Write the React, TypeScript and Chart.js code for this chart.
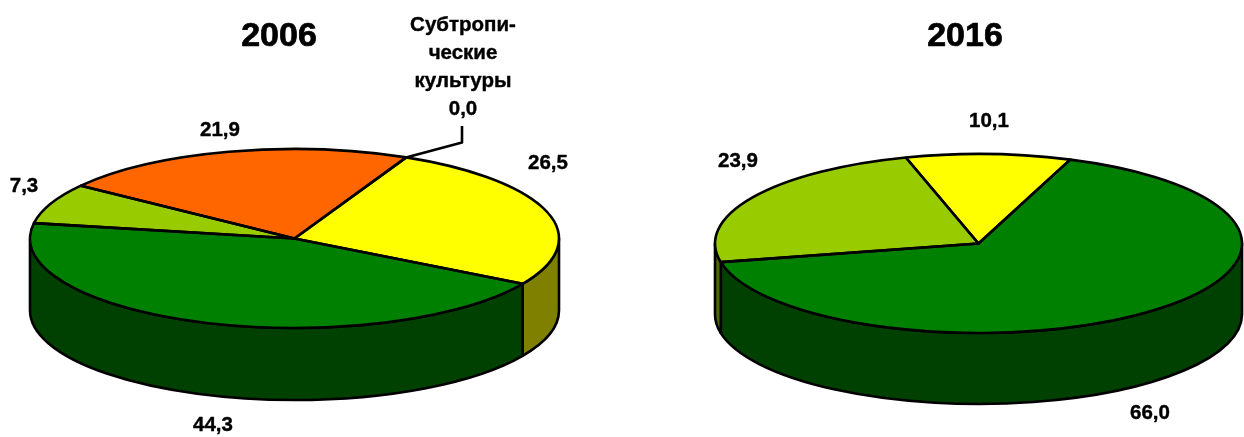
import React, { useEffect, useRef } from "react";
import { Chart, registerables } from "chart.js";

Chart.register(...registerables);

// ---- data ----
const categories2006 = ["Виноград", "Зерновые", "Овощи", "Плодовые", "Субтропические культуры"];
const values2006 = [26.5, 44.3, 7.3, 21.9, 0.0];
const labels2006 = ["26,5", "44,3", "7,3", "21,9"];
const calloutLines2006 = ["Субтропи-", "ческие", "культуры", "0,0"];
const colors2006 = ["#FFFF00", "#008000", "#99CC00", "#FF6600", "#FF00FF"];
const sideColors2006 = ["#808000", "#004000", "#4D6600", "#803300", "#800080"];

const categories2016 = ["Виноград", "Зерновые", "Овощи"];
const values2016 = [10.1, 66.0, 23.9];
const labels2016 = ["10,1", "66,0", "23,9"];
const colors2016 = ["#FFFF00", "#008000", "#99CC00"];
const sideColors2016 = ["#808000", "#004000", "#4D6600"];

// ---- layout ----
const FONT = '"Liberation Sans", Arial, sans-serif';
const TWO_PI = Math.PI * 2;
const LINE = 2.6;

type Spec = {
  title: string;
  titleX: number;
  categories: string[];
  values: number[];
  colors: string[];
  sides: string[];
  rotation: number;
  radius: number;
  squash: number;
  depth: number;
  padding: { left: number; right: number; top: number; bottom: number };
  labels: { text: string; x: number; y: number }[];
  callout?: { lines: string[]; x: number; ys: number[]; path: number[][] };
};

const specs: (Spec & { left: number })[] = [
  {
    left: 0,
    title: "2006",
    titleX: 279,
    categories: categories2006,
    values: values2006,
    colors: colors2006,
    sides: sideColors2006,
    rotation: 25,
    radius: 264.5,
    squash: 89.5 / 264.5,
    depth: 72,
    padding: { left: 0, right: 33, top: 40, bottom: 0 },
    labels: [
      { text: labels2006[0], x: 548, y: 163 },
      { text: labels2006[1], x: 213, y: 425 },
      { text: labels2006[2], x: 24, y: 186 },
      { text: labels2006[3], x: 220, y: 130 },
    ],
    callout: {
      lines: calloutLines2006,
      x: 463,
      ys: [25, 53, 81, 109],
      path: [[406, 157.5], [462, 142.5], [462, 126]],
    },
  },
  {
    left: 622,
    title: "2016",
    titleX: 343,
    categories: categories2016,
    values: values2016,
    colors: colors2016,
    sides: sideColors2016,
    rotation: -16,
    radius: 263.5,
    squash: 89.5 / 263.5,
    depth: 71,
    padding: { left: 91, right: 0, top: 50, bottom: 0 },
    labels: [
      { text: labels2016[0], x: 367, y: 121 },
      { text: labels2016[1], x: 528, y: 413 },
      { text: labels2016[2], x: 116, y: 161 },
    ],
  },
];

function pie3d(spec: Spec) {
  const arcs = (chart: any) =>
    chart.getDatasetMeta(0).data.map((el: any) =>
      el.getProps(["x", "y", "startAngle", "endAngle", "outerRadius"], true)
    );
  return {
    id: "pie3d",
    beforeDatasetsDraw(chart: any) {
      const ctx = chart.ctx;
      ctx.save();
      ctx.lineWidth = LINE;
      ctx.lineJoin = "round";
      ctx.strokeStyle = "#000";
      arcs(chart).forEach((a: any, i: number) => {
        if (a.endAngle - a.startAngle <= 0) return;
        const ry = a.outerRadius * spec.squash;
        for (let k = -1; k <= 2; k++) {
          const lo = Math.max(a.startAngle, k * TWO_PI);
          const hi = Math.min(a.endAngle, k * TWO_PI + Math.PI);
          if (hi <= lo) continue;
          ctx.beginPath();
          ctx.ellipse(a.x, a.y, a.outerRadius, ry, 0, lo, hi);
          ctx.ellipse(a.x, a.y + spec.depth, a.outerRadius, ry, 0, hi, lo, true);
          ctx.closePath();
          ctx.fillStyle = spec.sides[i];
          ctx.fill();
          ctx.stroke();
        }
      });
      ctx.restore();
      // the library's arcs are squashed into the tilted top face
      const first = chart.getDatasetMeta(0).data[0];
      ctx.save();
      ctx.translate(0, first.y);
      ctx.scale(1, spec.squash);
      ctx.translate(0, -first.y);
    },
    afterDatasetsDraw(chart: any) {
      const ctx = chart.ctx;
      ctx.restore();
      ctx.save();
      ctx.lineWidth = LINE;
      ctx.lineJoin = "round";
      ctx.strokeStyle = "#000";
      arcs(chart).forEach((a: any) => {
        if (a.endAngle - a.startAngle <= 0) return;
        const ry = a.outerRadius * spec.squash;
        ctx.beginPath();
        ctx.moveTo(a.x, a.y);
        ctx.ellipse(a.x, a.y, a.outerRadius, ry, 0, a.startAngle, a.endAngle);
        ctx.closePath();
        ctx.stroke();
      });
      ctx.restore();
    },
    afterDraw(chart: any) {
      const ctx = chart.ctx;
      ctx.save();
      ctx.fillStyle = "#000";
      ctx.strokeStyle = "#000";
      ctx.lineJoin = "round";
      ctx.textAlign = "center";
      ctx.textBaseline = "middle";
      const put = (t: string, x: number, y: number) => {
        ctx.fillText(t, x, y);
        ctx.strokeText(t, x, y);
      };
      ctx.lineWidth = 0.7;
      ctx.font = `bold 34px ${FONT}`;
      put(spec.title, spec.titleX, 37);
      ctx.lineWidth = 0.4;
      ctx.font = `bold 20.5px ${FONT}`;
      spec.labels.forEach((l) => put(l.text, l.x, l.y));
      if (spec.callout) {
        const c = spec.callout;
        c.lines.forEach((t, i) => put(t, c.x, c.ys[i]));
        ctx.beginPath();
        c.path.forEach(([x, y], i) => (i ? ctx.lineTo(x, y) : ctx.moveTo(x, y)));
        ctx.lineWidth = LINE;
        ctx.stroke();
      }
      ctx.restore();
    },
  };
}

function Pie({ spec }: { spec: Spec & { left: number } }) {
  const ref = useRef<HTMLCanvasElement>(null);
  useEffect(() => {
    const chart = new Chart(ref.current as HTMLCanvasElement, {
      type: "pie",
      data: {
        labels: spec.categories,
        datasets: [
          {
            data: spec.values,
            backgroundColor: spec.colors,
            borderWidth: 0,
            radius: spec.radius,
            clip: false,
          } as any,
        ],
      },
      options: {
        animation: false,
        responsive: false,
        events: [],
        rotation: spec.rotation,
        layout: { padding: spec.padding },
        plugins: { legend: { display: false }, tooltip: { enabled: false } },
      },
      plugins: [pie3d(spec)],
    } as any);
    return () => chart.destroy();
  }, [spec]);
  return (
    <canvas
      ref={ref}
      width={622}
      height={437}
      style={{ position: "absolute", left: spec.left, top: 0, width: 622, height: 437, display: "block" }}
    />
  );
}

export default function App() {
  return (
    <div style={{ position: "fixed", left: 0, top: 0, width: 1244, height: 437, overflow: "hidden", background: "#fff" }}>
      {specs.map((s) => (
        <Pie key={s.title} spec={s} />
      ))}
    </div>
  );
}
